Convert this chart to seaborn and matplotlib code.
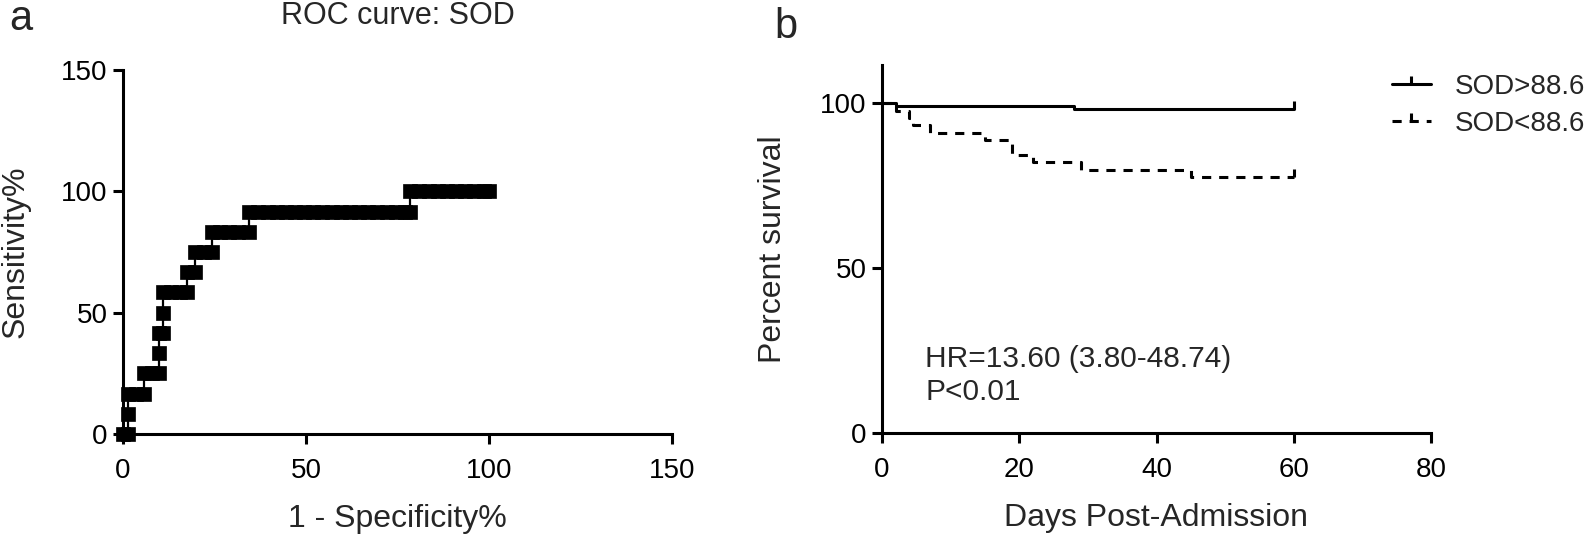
import pandas as pd
import matplotlib.pyplot as plt
import seaborn as sns
from matplotlib.lines import Line2D
from matplotlib.path import Path

# ROC curve: SOD  (1 - specificity %, sensitivity %)
roc_fpr = [0, 1.5,
           1.5,
           1.5, 3.5, 5.8,
           5.8, 7.8, 9.7,
           9.7,
           9.7, 10.8,
           10.8,
           10.8, 13, 15.5, 17.6,
           17.6, 19.7,
           19.7, 22, 24.2,
           24.2, 26.5, 29, 31.5, 34.3,
           34.3, 37, 39.5, 42, 44.5, 47, 49.5, 52, 54.5, 57, 59.5, 62,
           64.5, 67, 69.5, 72, 74.5, 77, 78.3,
           78.3, 81, 83.5, 86, 88.5, 91, 93.5, 96, 98.5, 100]
roc_tpr = [0, 0,
           8.33,
           16.67, 16.67, 16.67,
           25, 25, 25,
           33.33,
           41.67, 41.67,
           50,
           58.33, 58.33, 58.33, 58.33,
           66.67, 66.67,
           75, 75, 75,
           83.33, 83.33, 83.33, 83.33, 83.33,
           91.67, 91.67, 91.67, 91.67, 91.67, 91.67, 91.67, 91.67, 91.67,
           91.67, 91.67, 91.67, 91.67, 91.67, 91.67, 91.67, 91.67, 91.67,
           91.67,
           100, 100, 100, 100, 100, 100, 100, 100, 100, 100]

# Kaplan-Meier survival by SOD group
high_days = [0, 2, 28, 60]
high_surv = [100, 99.1, 98.2, 98.2]
low_days = [0, 2, 4, 4.5, 7, 15, 19, 22, 29, 45, 60]
low_surv = [100, 97.7, 95.4, 93.2, 91.0, 88.7, 84.2, 82.0, 79.8, 77.5, 77.5]

group_labels = ['SOD>88.6', 'SOD<88.6']
hr_text = 'HR=13.60 (3.80-48.74)'
p_text = 'P<0.01'

sns.set_style('ticks')
plt.rcParams['font.family'] = ['Liberation Sans', 'DejaVu Sans']
plt.rcParams['axes.linewidth'] = 2.2
plt.rcParams['xtick.major.width'] = 2.2
plt.rcParams['ytick.major.width'] = 2.2
plt.rcParams['xtick.major.size'] = 7
plt.rcParams['ytick.major.size'] = 7
plt.rcParams['xtick.labelsize'] = 20
plt.rcParams['ytick.labelsize'] = 20
plt.rcParams['xtick.color'] = 'black'
plt.rcParams['ytick.color'] = 'black'
plt.rcParams['axes.edgecolor'] = 'black'

fig = plt.figure(figsize=(15.92, 5.42), dpi=100)
W, H = 1592, 542
ax1 = fig.add_axes([123 / W, 1 - 434 / H, 549 / W, 364 / H])
ax2 = fig.add_axes([882 / W, 1 - 433 / H, 549 / W, 368 / H])

# ---- panel a: ROC
roc = pd.DataFrame({'fpr': roc_fpr, 'tpr': roc_tpr})
sns.lineplot(data=roc, x='fpr', y='tpr', sort=False, estimator=None, ax=ax1,
             color='black', lw=1.6, marker='s', ms=10, mfc='black', mec='black',
             mew=0.5, clip_on=False, zorder=5)
ax1.set_xlim(0, 150)
ax1.set_ylim(0, 150)
ax1.set_xticks([0, 50, 100, 150])
ax1.set_yticks([0, 50, 100, 150])
ax1.tick_params(axis='x', pad=10)
ax1.tick_params(axis='y', pad=4)
ax1.set_xlabel('1 - Specificity%', fontsize=23)
ax1.set_ylabel('Sensitivity%', fontsize=23)
ax1.xaxis.label.set_va('center')
ax1.yaxis.label.set_va('center')
ax1.xaxis.set_label_coords(0.5, (434 - 519) / 364)
ax1.yaxis.set_label_coords((16 - 123) / 549, 0.5)
sns.despine(ax=ax1)

# ---- panel b: survival
censor = Path([(0, 0), (0, 1)], [Path.MOVETO, Path.LINETO])
km_high = pd.DataFrame({'day': high_days, 'surv': high_surv})
km_low = pd.DataFrame({'day': low_days, 'surv': low_surv})
sns.lineplot(data=km_high, x='day', y='surv', estimator=None, ax=ax2,
             drawstyle='steps-post', color='black', lw=2.2,
             marker=censor, ms=11, mec='black', mew=2.2,
             markevery=[len(high_days) - 1])
sns.lineplot(data=km_low, x='day', y='surv', estimator=None, ax=ax2,
             drawstyle='steps-post', color='black', lw=2.2, dashes=(3.0, 2.6),
             marker=censor, ms=11, mec='black', mew=2.2,
             markevery=[len(low_days) - 1])
ax2.set_xlim(0, 80)
ax2.set_ylim(0, 111.5)
ax2.set_xticks([0, 20, 40, 60, 80])
ax2.set_yticks([0, 50, 100])
ax2.tick_params(axis='x', pad=10)
ax2.tick_params(axis='y', pad=4)
ax2.set_xlabel('Days Post-Admission', fontsize=23)
ax2.set_ylabel('Percent survival', fontsize=23)
ax2.xaxis.label.set_va('center')
ax2.yaxis.label.set_va('center')
ax2.xaxis.set_label_coords(0.5, (433 - 518) / 368)
ax2.yaxis.set_label_coords((773 - 882) / 549, 0.5)
sns.despine(ax=ax2)

ax2.text(6.3, 22.3, hr_text, fontsize=21.5, va='center', ha='left')
ax2.text(6.3, 12.3, p_text, fontsize=21.5, va='center', ha='left')

handles = [
    Line2D([], [], color='black', lw=2.2, marker=censor, ms=11, mec='black', mew=2.2),
    Line2D([], [], color='black', lw=2.2, dashes=(3.0, 2.6), marker=censor, ms=11,
           mec='black', mew=2.2),
]
fig.legend(handles, group_labels, loc='upper left',
           bbox_to_anchor=(1392 / W, 1 - 74 / H), frameon=False, fontsize=20,
           handlelength=1.4, handletextpad=0.85, labelspacing=0.4,
           borderpad=0, borderaxespad=0, numpoints=1)

# titles and panel letters
fig.text(398 / W, 1 - 16 / H, 'ROC curve: SOD', fontsize=22, ha='center', va='center')
fig.text(9 / W, 1 - 30 / H, 'a', fontsize=30, ha='left', va='baseline')
fig.text(774 / W, 1 - 38 / H, 'b', fontsize=30, ha='left', va='baseline')

fig.savefig('out.png', dpi=100)
